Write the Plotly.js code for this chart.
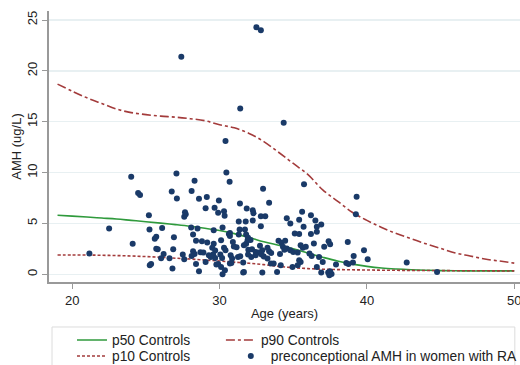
<!DOCTYPE html>
<html><head><meta charset="utf-8">
<script src="https://cdn.plot.ly/plotly-3.0.1.min.js"></script>
<style>html,body{margin:0;padding:0;background:#fff}#chart{width:520px;height:365px}</style>
</head><body><div id="chart"></div>
<script>
var curveAge = [19,20,21,22,23,24,25,26,27,28,29,30,31,32,33,34,35,36,37,38,39,40,41,42,43,44,45,46,47,48,49,50];
var p50 = [5.8,5.72,5.63,5.53,5.43,5.3,5.17,5.03,4.88,4.72,4.53,4.3,4.0,3.62,3.2,2.85,2.5,2.07,1.67,1.3,1.0,0.78,0.62,0.52,0.45,0.4,0.36,0.34,0.33,0.33,0.33,0.33];
var p10 = [1.9,1.9,1.89,1.87,1.84,1.8,1.74,1.67,1.58,1.5,1.4,1.3,1.19,1.08,0.95,0.78,0.65,0.56,0.5,0.46,0.44,0.42,0.4,0.39,0.38,0.37,0.36,0.35,0.34,0.34,0.33,0.33];
var p90 = [18.7,18.0,17.35,16.8,16.25,15.9,15.7,15.55,15.45,15.3,15.1,14.7,14.4,13.85,13.05,12.0,10.9,9.8,8.3,7.2,6.1,5.3,4.6,4.0,3.5,3.0,2.55,2.1,1.8,1.5,1.3,1.1];

var raAge = [27.4,32.5,32.8,31.4,30.4,34.35,24.0,27.07,30.46,28.3,30.68,35.73,32.95,39.3,24.47,24.6,26.75,27.1,28.1,28.6,29.13,29.95,33.36,31.38,29.05,29.66,29.9,30.3,30.34,31.84,32.25,32.3,25.2,27.6,27.7,27.65,31.3,31.77,32.8,33.1,32.25,34.56,35.4,34.8,35.6,36.2,36.5,39.25,36.9,36.6,35.7,36.6,35.4,36.2,35.1,22.5,25.24,26.1,28.07,28.5,29.6,30.2,31.36,31.72,32.8,30.7,28.2,26.9,25.7,25.6,28.4,24.1,30.63,30.7,31.3,31.8,31.93,32.1,28.8,29.16,30.1,30.9,31.9,31.8,37.4,37.5,36.4,37.1,38.7,35.5,35.65,35.85,25.7,25.8,26.85,26.2,27.5,28.2,28.3,28.7,29.6,29.5,29.7,29.56,29.7,28.9,29.27,29.4,29.05,30.05,30.17,30.3,30.4,30.97,31.15,31.65,31.95,32.2,32.45,32.67,32.9,32.74,33.25,33.36,33.5,34.0,34.2,34.45,34.3,34.4,34.1,34.56,34.8,35.0,35.3,36.1,36.25,39.8,39.1,40.05,39.05,35.4,35.5,36.75,37.0,37.9,38.6,38.75,36.6,36.9,37.37,37.5,37.6,37.45,42.7,44.76,26.03,26.6,27.6,28.1,28.4,25.26,25.35,26.8,28.6,21.16,29.9,30.1,30.2,30.36,30.7,31.25,31.6,31.65,29.78,30.8,31.6,32.9,33.9,30.75,30.85,31.4,31.93,32.15,32.45,32.85,33.0,33.25,33.48,33.67,34.15,34.95,35.3];
var raAMH = [21.4,24.3,24.0,16.3,13.1,14.9,9.6,9.9,10.0,9.2,9.1,8.85,8.4,7.63,8.0,7.8,8.15,7.45,8.2,7.43,7.6,7.25,7.03,6.95,6.5,6.54,6.05,6.2,5.75,6.48,6.3,6.0,5.8,5.65,5.9,6.1,5.2,5.2,5.7,5.7,5.3,5.5,5.35,5.0,6.15,5.8,5.3,5.9,4.9,4.67,4.67,4.17,3.95,3.95,4.0,4.5,4.4,4.55,4.6,4.5,4.34,4.6,4.4,4.4,4.73,4.07,3.9,3.65,3.68,3.5,3.3,3.0,3.97,3.77,3.9,3.9,3.58,3.38,3.25,3.13,3.35,3.18,3.35,3.0,3.25,2.96,3.03,2.7,3.18,2.86,2.6,2.7,2.5,2.45,2.45,2.0,1.95,2.27,2.0,2.17,3.0,2.6,2.33,1.94,1.6,2.13,1.87,1.7,1.2,1.94,1.6,2.6,2.37,2.73,2.66,2.86,2.4,2.46,2.2,2.14,2.37,2.8,2.6,2.27,2.1,3.3,3.1,3.3,2.7,2.4,2.0,2.53,2.37,2.2,2.14,2.04,1.8,2.37,1.8,1.48,1.15,1.38,1.2,1.7,1.2,0.96,1.1,1.0,0.72,0.17,0.17,0.3,0.03,-0.1,1.15,0.23,1.58,1.58,1.48,1.8,1.0,0.89,1.0,0.56,0.3,2.04,1.0,0.72,0.0,0.4,1.05,1.7,1.15,0.23,0.95,1.1,0.17,0.17,0.23,1.87,1.55,1.77,1.94,1.7,1.87,1.94,1.74,1.54,1.05,1.05,0.88,0.72,0.88];

var yTicks = [0,5,10,15,20,25];
var xTicks = [20,30,40,50];

var green = '#2f9a3c', red = '#a33b3b', navy = '#1a3a68';
var fontFam = 'Liberation Sans, Arial, sans-serif';

var traces = [
  {x: curveAge, y: p50, mode:'lines', name:'p50 Controls', line:{color:green, width:1.6, shape:'spline'}, legend:'legend'},
  {x: curveAge, y: p90, mode:'lines', name:'p90 Controls', line:{color:red, width:1.6, dash:'dashdot', shape:'spline'}, legend:'legend2'},
  {x: curveAge, y: p10, mode:'lines', name:'p10 Controls', line:{color:red, width:1.6, dash:'3px,2px', shape:'spline'}, legend:'legend3'},
  {x: raAge, y: raAMH, mode:'markers', name:'preconceptional AMH in women with RA', marker:{color:navy, size:6}, legend:'legend4'}
];

function leg(x, y){
  return {x:x, y:y, xanchor:'left', yanchor:'middle', bgcolor:'rgba(0,0,0,0)', borderwidth:0,
    font:{family:fontFam, size:13.8, color:'#222'}, orientation:'v'};
}

var layout = {
  width:520, height:365,
  margin:{l:49, r:0, t:11, b:83, autoexpand:false},
  paper_bgcolor:'#fff', plot_bgcolor:'#fff',
  font:{family:fontFam, color:'#222'},
  xaxis:{range:[18.42,50.39], tickvals:xTicks, ticktext:xTicks.map(String), showgrid:false, zeroline:false,
    showline:true, linecolor:'#999', linewidth:2, ticks:'outside', ticklen:5, tickcolor:'#999', tickwidth:1,
    ticklabeloverflow:'allow',
    tickfont:{size:13, color:'#222'}, title:{text:'Age (years)', font:{size:13, color:'#222'}, standoff:2}},
  yaxis:{range:[-0.76,25.89], tickvals:yTicks, ticktext:yTicks.map(String), showgrid:true, gridcolor:'#e8f0f2', gridwidth:1.5,
    zeroline:false, showline:true, linecolor:'#999', linewidth:2, ticks:'outside', ticklen:5, tickcolor:'#999', tickwidth:1,
    tickangle:-90, tickfont:{size:13, color:'#222'}, title:{text:'AMH (ug/L)', font:{size:13, color:'#222'}, standoff:0}},
  showlegend:true,
  legend: leg(0.0488, -0.214),
  legend2: leg(0.365, -0.214),
  legend3: leg(0.0488, -0.273),
  legend4: leg(0.386, -0.273),
  shapes:[{type:'rect', xref:'paper', yref:'paper', x0:0.0064, x1:0.989, y0:-0.1660, y1:-0.33, line:{color:'#dcdcdc', width:1}, fillcolor:'rgba(0,0,0,0)'}]
};

Plotly.newPlot('chart', traces, layout, {staticPlot:true, displayModeBar:false});
</script></body></html>
